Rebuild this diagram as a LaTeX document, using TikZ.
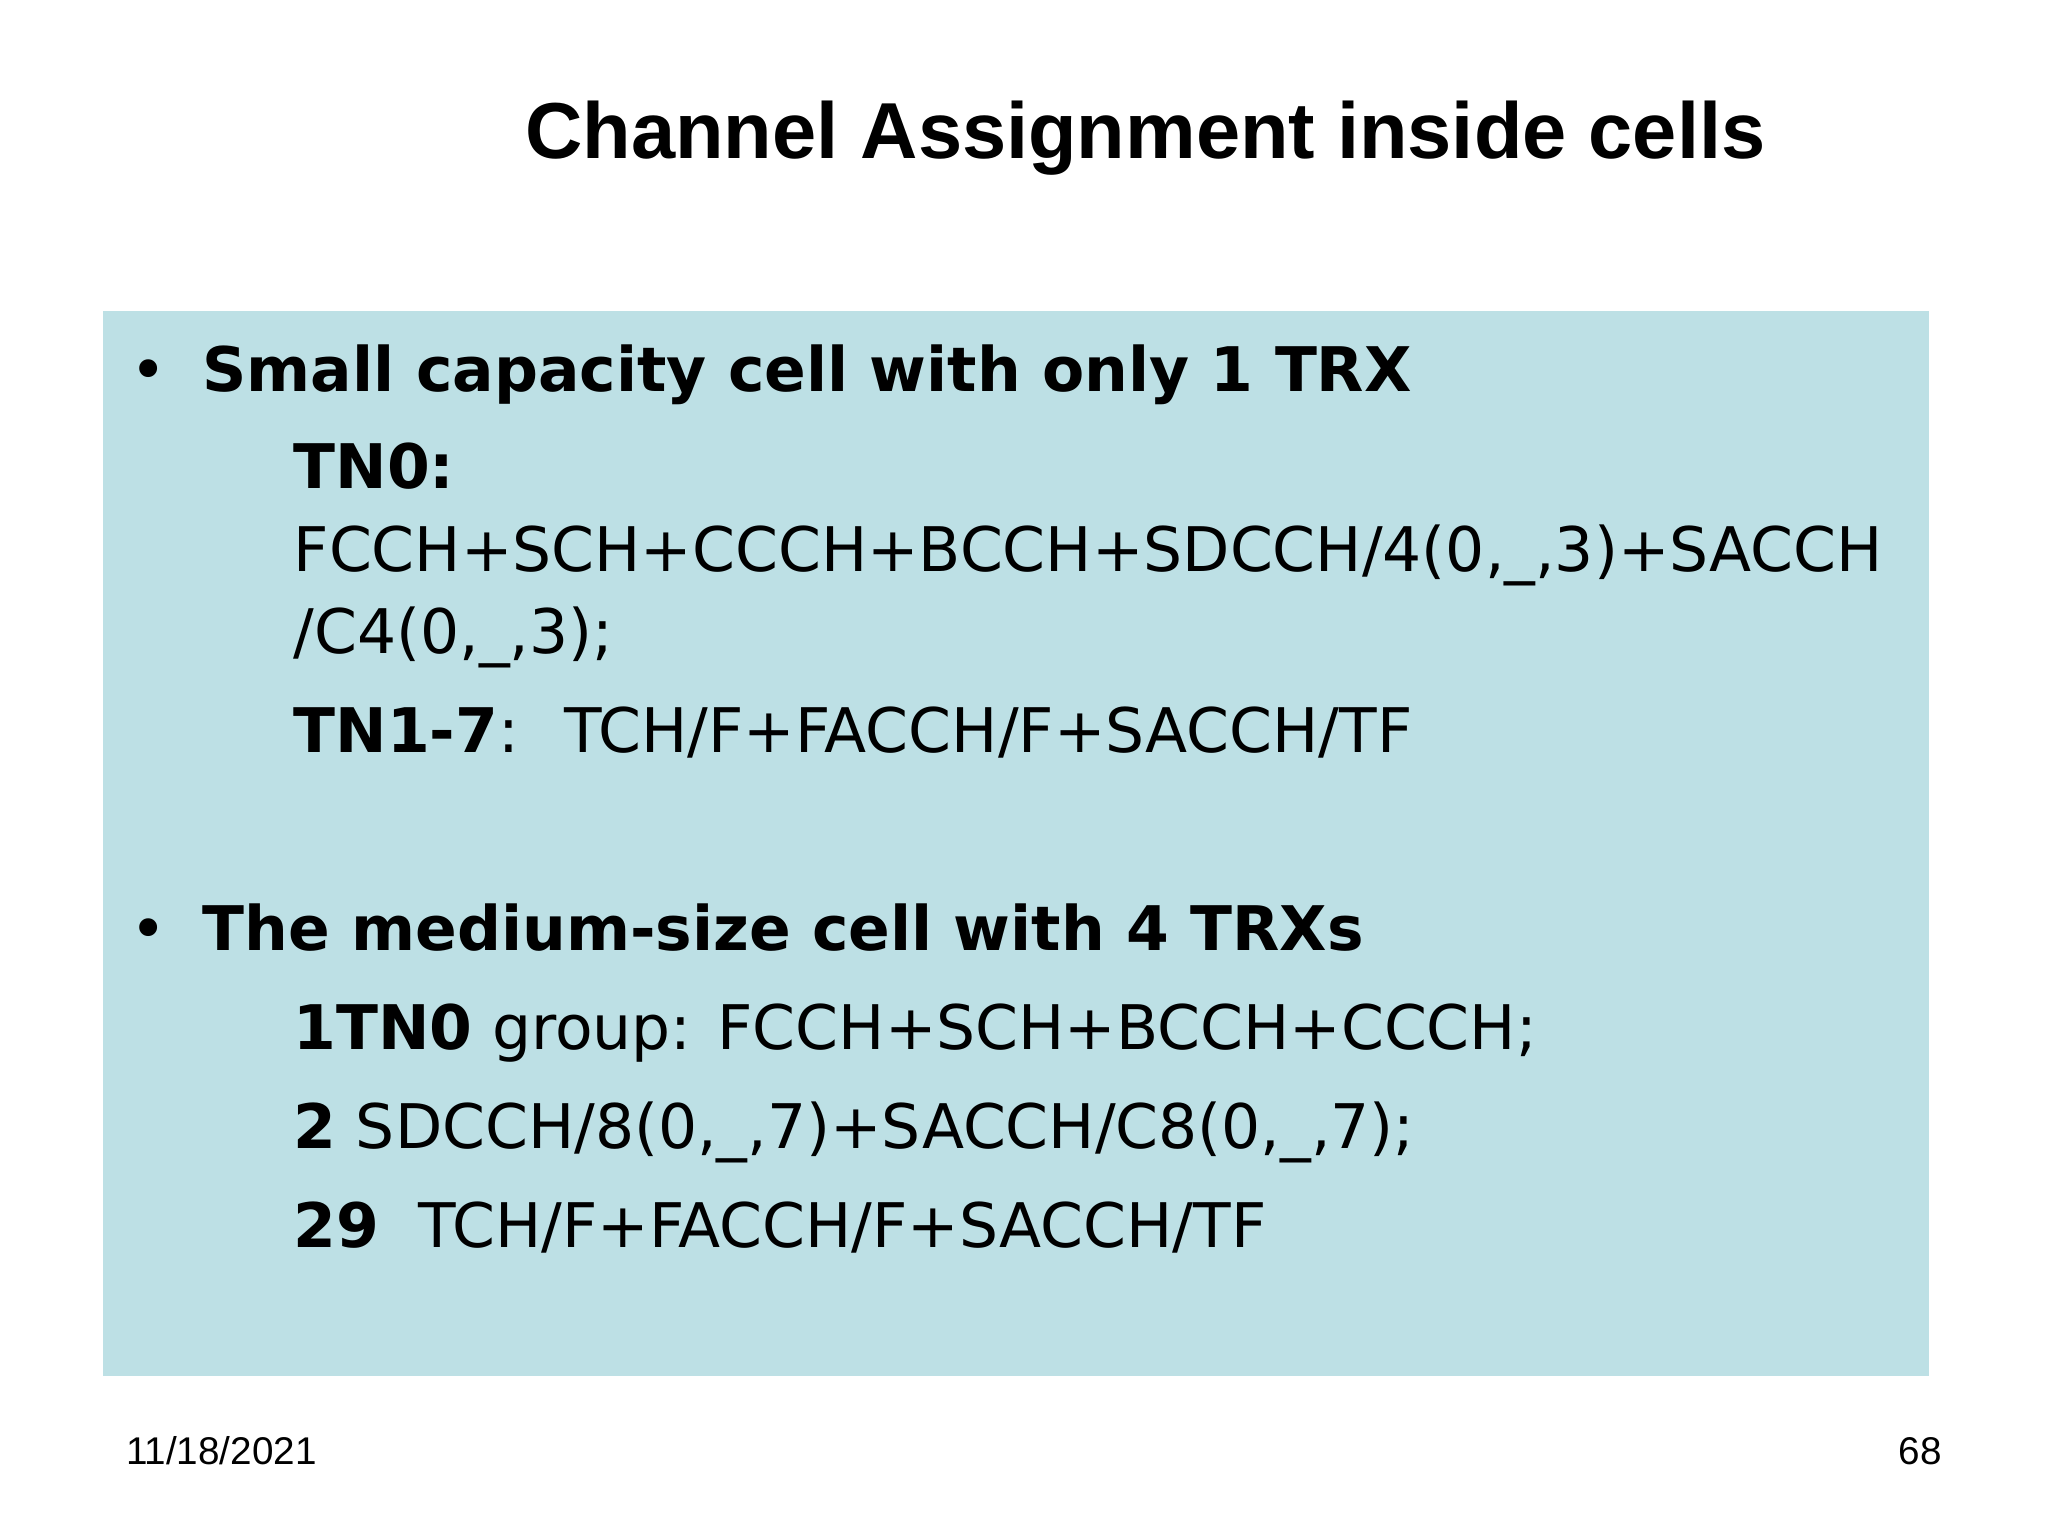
\documentclass[tikz,border=0pt]{standalone}
\usepackage{fontspec}
\setmainfont{Liberation Sans}
\newfontfamily\bodyf{DejaVu Sans}
\definecolor{boxc}{HTML}{BDE0E5}
\begin{document}
\begin{tikzpicture}[x=0.0132cm,y=-0.0132cm,
  ln/.style={anchor=base west,inner sep=0pt,font=\bodyf\fontsize{17.5}{21}\selectfont},
  ft/.style={inner sep=0pt,font=\fontsize{11}{13}\selectfont}]
\useasboundingbox (0,0) rectangle (1552,1164);
\fill[boxc] (78,236) rectangle (1462,1043);
\node[anchor=base,inner sep=0pt,font=\bfseries\fontsize{22.6}{27}\selectfont] (title) at (868,120) {Channel Assignment inside cells};
\node[ln] (b1) at (98,297) {•};
\node[ln] (l1) at (153,297) {\bfseries Small capacity cell with only 1 TRX};
\node[ln] (l2) at (222,370) {\bfseries TN0:};
\node[ln] (l3) at (222,433) {FCCH+SCH+CCCH+BCCH+SDCCH/4(0,\_,3)+SACCH};
\node[ln] (l4) at (222,495) {/C4(0,\_,3);};
\node[ln] (l5) at (222,570) {\textbf{TN1-7}: \ TCH/F+FACCH/F+SACCH/TF};
\node[ln] (b2) at (98,720) {•};
\node[ln] (l6) at (153,720) {\bfseries The medium-size cell with 4 TRXs};
\node[ln] (l7) at (222,795) {\textbf{1TN0} group: FCCH+SCH+BCCH+CCCH;};
\node[ln] (l8) at (222,870) {\textbf{2} SDCCH/8(0,\_,7)+SACCH/C8(0,\_,7);};
\node[ln] (l9) at (222,945) {\textbf{29} \ TCH/F+FACCH/F+SACCH/TF};
\node[ft,anchor=base west] (date) at (95,1110) {11/18/2021};
\node[ft,anchor=base east] (pg) at (1472,1110) {68};
\end{tikzpicture}
\end{document}
